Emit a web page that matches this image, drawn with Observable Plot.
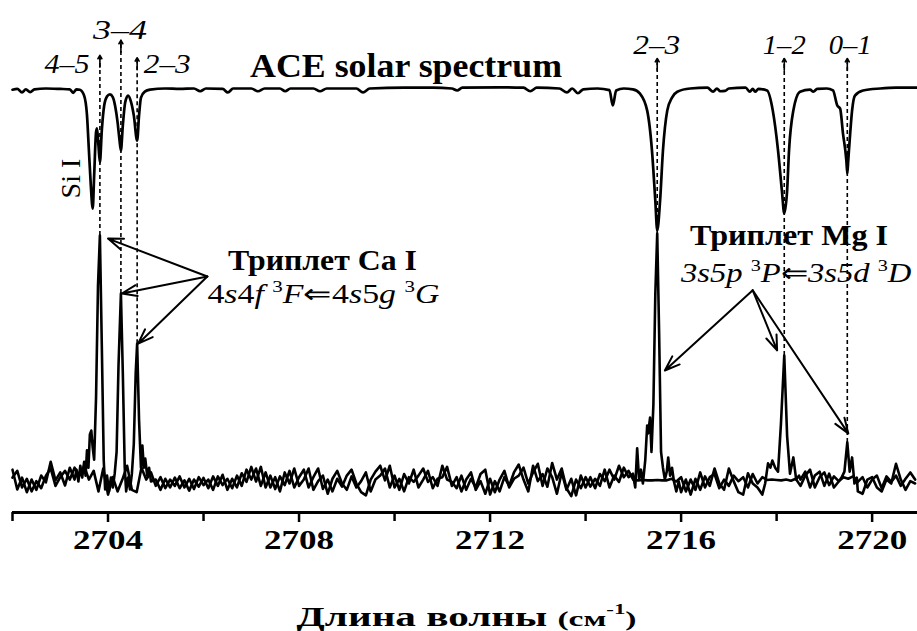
<!DOCTYPE html>
<html><head><meta charset="utf-8">
<script src="https://cdn.jsdelivr.net/npm/d3@7"></script>
<script src="https://cdn.jsdelivr.net/npm/@observablehq/plot@0.6"></script>
<style>
body{margin:0;background:#fff;}
#chart{width:917px;}
#xlabel{width:917px;height:30px;line-height:30px;margin-top:32px;text-align:center;font-family:'Liberation Serif','Times New Roman',serif;font-weight:bold;font-size:27px;color:#000;white-space:nowrap;}
#xl{display:inline-block;position:relative;left:8px;transform-origin:50% 50%;}
.sm{font-size:22px;}
.sup{font-size:15px;position:relative;top:-12px;line-height:0;}
</style></head><body>
<div id="chart"></div>
<div id="xlabel"><span id="xl">Длина волны <span class="sm">(см<span class="sup">-1</span>)</span></span></div>
<script>
const SERIF = "'Liberation Serif','Times New Roman',serif";

// ---- axis ticks ----
const majorTicks = [2704, 2708, 2712, 2716, 2720];
const minorTicks = [2702, 2706, 2710, 2714, 2718];

// ---- ACE solar spectrum (wavenumber, intensity; continuum = 100) ----
const solarX = [2702.00,2702.10,2702.20,2702.28,2702.37,2702.46,2702.70,2703.00,2703.20,2703.27,2703.34,2703.41,
 2703.50,2703.56,2703.60,2703.64,2703.68,2703.71,2703.75,2703.77,2703.80,2703.83,2703.87,2703.92,2703.98,
 2704.04,2704.10,2704.15,2704.20,2704.24,2704.27,2704.31,2704.36,2704.42,2704.48,2704.54,2704.61,2704.65,2704.69,
 2704.77,2704.88,2705.20,2705.50,2705.80,2705.93,2706.05,2706.40,2706.51,2706.62,2707.00,2707.14,2707.28,2707.60,
 2707.71,2707.82,2708.30,2708.44,2708.58,2709.20,2709.34,2709.48,2710.20,2710.80,2711.20,2711.31,2711.42,2712.20,
 2712.70,2712.84,2712.98,2713.45,2713.61,2713.72,2713.84,2713.95,2714.25,2714.50,2714.57,2714.64,2714.80,2714.99,
 2715.14,2715.29,2715.39,2715.46,2715.50,2715.56,2715.62,2715.71,2715.81,2715.92,2716.19,2716.55,2716.67,2716.75,
 2716.82,2716.92,2717.00,2717.35,2717.44,2717.50,2717.55,2717.62,2717.80,2717.92,2718.03,2718.11,2718.16,2718.22,
 2718.26,2718.35,2718.49,2718.70,2718.77,2718.85,2719.05,2719.18,2719.27,2719.33,2719.39,2719.46,2719.48,2719.50,
 2719.54,2719.58,2719.64,2719.81,2720.17,2720.50,2720.95];
const solarY = [99.7,99.9,99.0,99.8,99.1,99.8,100,99.9,99.8,98.9,99.8,99.7,
 98.2,93.2,84.3,75.4,69.6,78,89.0,89.9,85.6,81.3,89.4,95.7,98.0,
 98.5,97.8,95.5,91.5,87,84.3,90.6,96.5,98.2,96.7,93.2,86.8,93.2,97.7,
 99.2,99.7,100,99.9,100,99.3,100,99.9,99.0,100,100,99.3,100,100,
 99.3,100,100,99.3,100,100,99.0,100,100.2,100.2,100,99.5,100.2,100.3,
 100.2,99.3,100.2,100,99.0,100,98.8,99.8,100,99.6,95.7,99.5,100,99.8,
 98.7,94.4,84.3,71.6,64.1,71.6,84.3,94.4,97.7,99.2,100,100.2,99.2,100,
 99.3,99.4,100,100.2,99.2,99.9,99.2,99.9,99.5,94.4,84.3,74.2,68.4,74.2,
 84.3,94.4,99.2,99.7,99.2,99.9,100,99.5,95.7,94.9,88.6,81.8,78.5,81.8,
 88.6,94.4,98.2,99.5,100,100.2,100.2];

// ---- emission spectra: regular grid 2702.0 + 0.1*i ----
const gridStart = 2702.0, gridStep = 0.1;
const emissionNoise = [3.5,-1.5,1.5,-2.2,1.0,-1.6,2.0,0.3,5.5,0.8,2.8,-0.5,4.0,
 null,null,null,null,null,null,null,null,null,null,null,null,null,null,null,null,null,
 1.0,-1.6,1.2,-1.0,1.5,-1.2,0.8,-1.8,1.0,-0.8,1.4,
 -1.2,1.8,-0.6,2.2,-1.6,1.2,-1.0,2.6,0.4,4.2,
 0.5,4.2,-1.0,2.0,-1.4,1.8,-0.4,3.2,-1.0,1.6,
 3.5,-1.0,1.6,3.8,-1.4,1.0,-2.0,1.2,-0.8,2.0,
 3.5,0.0,-2.2,-3.0,1.0,3.0,4.5,0.8,4.5,-1.0,
 1.2,-2.0,1.6,0.4,2.0,3.8,0.4,1.6,-0.6,4.5,
 1.0,0.4,-1.2,2.0,-1.6,1.2,-1.0,2.4,3.5,-2.8,
 0.6,-2.0,1.6,-0.6,2.8,4.8,1.0,-2.0,4.5,0.6,
 2.4,-0.8,5.2,1.0,3.8,-1.2,-3.2,1.0,-1.2,1.6,
 -0.8,1.2,-0.6,3.5,-1.0,2.0,0.4,4.0,1.6,
 null,null,null,null,null,null,null,null,null,null,
 -2.2,1.0,-2.8,1.2,-1.6,1.8,-0.6,3.8,0.0,-1.6,3.8,
 0.6,-2.2,-2.8,2.6,0.0,-1.0,-2.8,
 null,null,null,null,null,null,null,
 1.0,3.0,-1.0,2.0,3.0,-0.6,2.5,-1.0,
 null,null,null,null,
 -2.0,-2.6,1.0,1.6,-1.0,-2.0,1.0,0.0,5.0,1.0,-1.6,0.6,0.0];
const backgroundNoise = [1.5,3.2,-1.0,1.2,-2.0,0.6,-1.2,2.0,3.8,-0.6,1.6,3.2,1.0,
 4.0,2.0,4.5,1.0,3.2,-2.0,3.8,-2.8,1.6,-2.0,1.0,4.5,-1.6,-2.2,4.0,1.0,2.8,
 -0.6,1.6,-1.2,1.0,-0.6,1.8,-1.0,1.2,-1.4,1.6,-0.4,
 1.0,-1.6,1.8,-0.4,1.2,-1.2,2.0,-0.6,3.5,1.0,3.8,-0.6,2.8,-1.0,1.6,-2.0,2.8,0.0,3.8,-0.6,
 1.0,3.8,-1.6,0.6,2.0,-2.6,1.2,3.2,0.0,-1.6,1.8,-1.0,0.6,2.8,-2.0,1.0,2.0,3.8,-1.0,2.0,
 -1.6,2.4,0.0,3.5,-1.0,1.0,3.2,-1.2,1.2,1.6,4.2,-0.6,1.6,-2.0,1.0,2.8,-1.6,0.6,-2.6,1.2,
 -2.2,1.0,3.2,-1.0,1.2,2.0,4.0,0.0,2.8,5.0,-0.6,3.8,1.6,-2.6,2.8,-1.6,1.2,-3.0,2.0,-1.0,1.6,-1.2,2.4,0.6,3.5,1.0,4.5,1.6,3.2,
 0.9,0.8,0.9,0.8,0.8,0.9,0.8,0.8,1.2,0.5,
 1.6,-2.0,1.0,-1.6,2.8,-1.0,1.6,2.4,-1.2,1.0,-0.6,2.0,0.6,1.6,-1.0,2.4,0.0,1.6,
 0.9,1.0,0.9,0.8,1.0,0.7,1.2,
 -0.6,2.0,3.5,-1.0,1.6,2.8,-0.4,1.8,0.6,1.6,1.2,1.8,0.4,1.6,-1.0,1.0,2.0,-1.2,1.8,0.4,2.0,-0.6,1.2,2.8,1.0];

// emission line profiles (fill the null gaps of emissionNoise)
const caPeakX = [2703.30,2703.34,2703.38,2703.42,2703.46,2703.50,2703.53,2703.56,2703.59,2703.62,
 2703.65,2703.68,2703.71,2703.75,2703.79,2703.83,2703.87,2703.91,2703.94,2703.98,
 2704.02,2704.06,2704.10,2704.14,2704.18,2704.22,2704.27,2704.31,2704.35,2704.38,
 2704.42,2704.46,2704.50,2704.54,2704.58,2704.61,2704.65,2704.69,2704.72,2704.75,
 2704.78,2704.82,2704.86,2704.90];
const caPeakY = [1.0,3.5,0.5,4.5,1.5,5.5,2.0,8.4,4.0,12.4,
 13.4,9.0,6.0,22,50,62.8,35,6,-1.5,2.0,
 -2.0,1.5,-1.0,2.5,8,30,48.1,28,4,-2.0,
 1.5,-1.5,2.5,10,28,35.4,16,4,9.6,4.0,
 6.3,2.0,4.0,0.5];
const mg23PeakX = [2714.99,2715.04,2715.08,2715.12,2715.16,2715.20,2715.25,2715.29,2715.31,2715.35,2715.38,2715.42,
 2715.46,2715.50,2715.54,2715.58,2715.62,2715.66,2715.70,2715.73,2715.77,2715.81,2715.85,2715.90,2715.95];
const mg23PeakY = [2.5,-1.0,8.9,1.0,3.5,0.0,6.0,14.7,12.7,16.7,8.0,20,48,63.3,38,8,4,1,3,6.6,2,4,0.5,-2.0,0.5];
const mg12PeakX = [2717.76,2717.82,2717.87,2717.91,2717.97,2718.03,2718.09,2718.16,2718.22,2718.28,2718.35,2718.41,2718.47];
const mg12PeakY = [0,5.1,4,5.8,4,3,15,32.4,12,2.5,6.6,1,2];
const mg01PeakX = [2719.30,2719.36,2719.42,2719.48,2719.53,2719.58,2719.63,2719.68];
const mg01PeakY = [0.5,1.5,3,10.4,3,6.6,0,1.5];

// ---- transition markers ----
const lineLabels = ["4–5","3–4","2–3","2–3","1–2","0–1"];
const lineX      = [2703.83,2704.27,2704.61,2715.50,2718.16,2719.48];
const linePeak   = [62.8,48.1,35.4,63.3,32.4,10.4];
const lineTip    = [108.4,112.2,107.8,107.6,107.6,107.6];
const labelX     = [2703.14,2704.25,2705.24,2715.49,2718.16,2719.54];
const labelY     = [106.3,114.7,106.3,110.9,110.9,110.9];

// ---- triplet pointer arrows ----
const arrowFromX = [2706.08,2706.08,2706.08,2717.50,2717.50,2717.50];
const arrowFromY = [52.4,52.4,52.4,48.9,48.9,48.9];
const arrowToX   = [2704.00,2704.29,2704.63,2715.66,2718.01,2719.50];
const arrowToY   = [62.0,48.1,35.4,28.6,33.7,12.7];

// ---- annotations ----
const boldText = ["ACE solar spectrum","Триплет Ca I","Триплет Mg I"];
const boldX = [2710.24,2708.49,2718.26];
const boldY = [105.6,56.5,62.8];
const boldSize = [33,29,29];
const siLabel = ["Si I"], siX = [2703.22], siY = [77.2];
const caTerm = ["4","s","4","f"," ","3","F","⇐","4","s","5","g"," ","3","G"];
const caItalic = [0,1,0,1,0,0,1,0,0,1,0,1,0,0,1];
const caSup = [0,0,0,0,0,1,0,0,0,0,0,0,0,1,0];
const mgTerm = ["3s5p"," ","3","P","⇐","3s5d"," ","3","D"];
const mgItalic = [1,0,0,1,0,1,0,0,1];
const mgSup = [0,0,1,0,0,0,0,1,0];

// ---- build tables ----
const grid = (arr) => arr.map((v, i) => ({x: +(gridStart + gridStep * i).toFixed(2), y: v}));
const peaks = [[caPeakX,caPeakY],[mg23PeakX,mg23PeakY],[mg12PeakX,mg12PeakY],[mg01PeakX,mg01PeakY]]
  .flatMap(([xs, ys]) => xs.map((x, i) => ({x, y: ys[i]})));
const emission = grid(emissionNoise).filter(d => d.y !== null).concat(peaks).sort((a, b) => a.x - b.x);
const background = grid(backgroundNoise);
const solar = solarX.map((x, i) => ({x, y: solarY[i]}));
const lines = lineLabels.map((t, i) => ({t, x: lineX[i], peak: linePeak[i], tip: lineTip[i], lx: labelX[i], ly: labelY[i]}));
const pointers = arrowFromX.map((x, i) => ({x1: x, y1: arrowFromY[i], x2: arrowToX[i], y2: arrowToY[i]}));
const yDomain = [-7.34, 122.28];

const plot = Plot.plot({
  width: 917, height: 570,
  marginLeft: 12, marginRight: 0, marginTop: 0, marginBottom: 58,
  x: {domain: [2702, 2720.95]},
  y: {domain: yDomain, axis: null},
  style: {fontFamily: SERIF, background: "white", color: "black", overflow: "visible"},
  marks: [
    Plot.ruleY([yDomain[0]], {strokeWidth: 3, stroke: "black"}),
    Plot.axisX({ticks: majorTicks, tickSize: 10, tickFormat: () => "", strokeWidth: 2.5, label: null}),
    Plot.axisX({ticks: minorTicks, tickSize: 9, tickFormat: () => "", strokeWidth: 2.5, label: null}),
    Plot.text(majorTicks, {x: d => d, frameAnchor: "bottom", dy: 36, text: d => String(d), fontSize: 27, fontWeight: "bold", fill: "black"}),
    Plot.line(background, {x: "x", y: "y", stroke: "black", strokeWidth: 2.6}),
    Plot.line(emission, {x: "x", y: "y", stroke: "black", strokeWidth: 2.6}),
    Plot.line(solar, {x: "x", y: "y", stroke: "black", strokeWidth: 2.7, curve: "monotone-x"}),
    Plot.ruleX(lines, {x: "x", y1: "peak", y2: "tip", stroke: "black", strokeWidth: 1.6, strokeDasharray: "4,3"}),
    Plot.arrow(lines, {x1: "x", x2: "x", y1: d => d.tip - 3, y2: "tip", stroke: "black", strokeWidth: 1.6, headLength: 8, headAngle: 60}),
    Plot.text(lines, {x: "lx", y: "ly", text: "t", fontStyle: "italic", fontSize: 28, fill: "black"}),
    Plot.arrow(pointers, {x1: "x1", y1: "y1", x2: "x2", y2: "y2", stroke: "black", strokeWidth: 2, headLength: 12, headAngle: 40}),
    Plot.text(boldText, {x: (d, i) => boldX[i], y: (d, i) => boldY[i], text: d => d, fontSize: (d, i) => boldSize[i], fontWeight: "bold", fill: "black"}),
    Plot.text(siLabel, {x: (d, i) => siX[i], y: (d, i) => siY[i], text: d => d, rotate: -90, fontSize: 28, fill: "black"})
  ]
});
document.getElementById("chart").appendChild(plot);

const targetWidth = new Map([["2704",70],["2708",70],["2712",70],["2716",70],["2720",70],
  ["ACE solar spectrum",312],["Триплет Ca I",189],["Триплет Mg I",198],
  ["4–5",45],["3–4",54],["2–3",47],["1–2",43],["0–1",43]]);
d3.select(plot).selectAll("text").each(function() {
  const w = targetWidth.get(this.textContent);
  if (w) { this.setAttribute("textLength", w); this.setAttribute("lengthAdjust", "spacingAndGlyphs"); }
});

const xs = plot.scale("x"), ys = plot.scale("y");
function term(parts, italic, sup, cx, cy, size, targetW) {
  const t = d3.select(plot).append("text").attr("text-anchor", "middle")
    .attr("font-family", SERIF).attr("font-size", size).attr("fill", "black");
  let shift = 0;
  parts.forEach((p, i) => {
    const s = t.append("tspan").text(p);
    if (italic[i]) s.attr("font-style", "italic");
    if (sup[i]) { s.attr("font-size", size * 0.62).attr("dy", -size * 0.42); shift = size * 0.42; }
    else if (shift) { s.attr("dy", shift); shift = 0; }
  });
  const w = t.node().getBBox().width;
  t.attr("transform", `translate(${xs.apply(cx)},${ys.apply(cy)}) scale(${targetW / w},1)`);
}
term(caTerm, caItalic, caSup, 2708.52, 45.6, 27, 232);
term(mgTerm, mgItalic, mgSup, 2718.42, 50.9, 27, 233);

const xl = document.getElementById("xl");
xl.style.transform = `scaleX(${340 / xl.getBoundingClientRect().width})`;
</script></body></html>
